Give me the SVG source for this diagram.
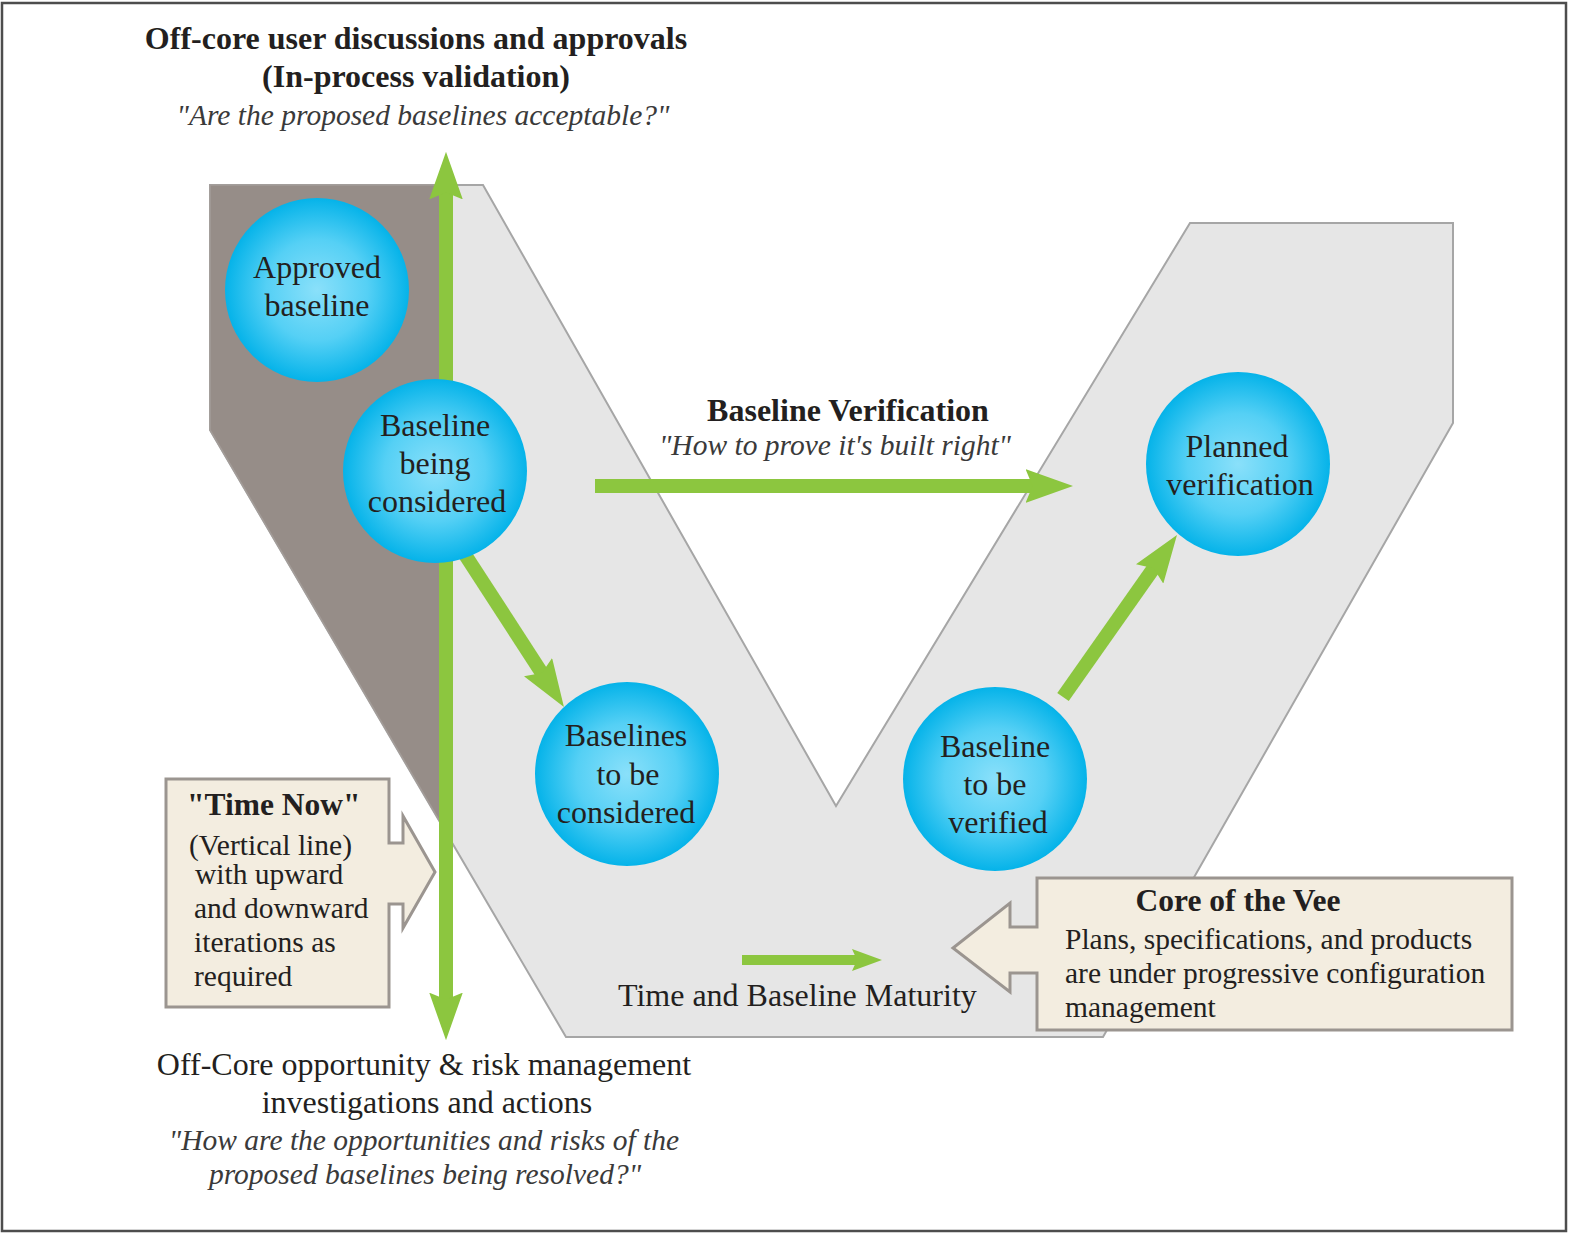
<svg xmlns="http://www.w3.org/2000/svg" width="1573" height="1237" viewBox="0 0 1573 1237">
<style>
  .t { font-family: "Liberation Serif", "Times New Roman", serif; fill: #231f20; }
  .b { font-weight: bold; }
  .i { font-style: italic; fill: #3a3a3a; }
  .ctr { text-anchor: middle; }
  .node { fill: url(#ball); }
  .call { fill: #f3ede0; stroke: #9b9590; stroke-width: 3; stroke-linejoin: miter; }
  .conn { stroke: #8cc63f; stroke-width: 14; fill: none; }
  .connS { stroke: #8cc63f; stroke-width: 10; fill: none; }
</style>
<defs>
  <radialGradient id="ball" cx="50%" cy="50%" r="50%">
    <stop offset="0" stop-color="#8ae0fa"/>
    <stop offset="0.55" stop-color="#55d0f5"/>
    <stop offset="1" stop-color="#05b3e9"/>
  </radialGradient>
  <marker id="arr" markerUnits="strokeWidth" markerWidth="3.4" markerHeight="2.4" viewBox="0 0 3.4 2.4" refX="0.6" refY="1.2" orient="auto-start-reverse">
    <path d="M0,0 L3.4,1.2 L0,2.4 L0.5,1.2 Z" fill="#8cc63f"/>
  </marker>
  <marker id="arrS" markerUnits="strokeWidth" markerWidth="3" markerHeight="2.2" viewBox="0 0 3 2.2" refX="0.6" refY="1.1" orient="auto">
    <path d="M0,0 L3,1.1 L0,2.2 L0.5,1.1 Z" fill="#8cc63f"/>
  </marker>
</defs>

<rect x="0" y="0" width="1573" height="1237" fill="#ffffff"/>
<rect x="2" y="3" width="1564" height="1228" fill="none" stroke="#4d4d4d" stroke-width="2.5"/>

<g id="vee">
  <polygon points="210,185 483,185 836,806 1190,223 1453,223 1453,423 1103,1037 566,1037 210,430" fill="#e6e6e6" stroke="#a6a6a6" stroke-width="2"/>
  <polygon points="210,185 446,185 446,832 210,430" fill="#968d88" stroke="#a39c98" stroke-width="1.5"/>
</g>

<g id="connectors">
  <line class="conn" x1="446" y1="191" x2="446" y2="1001" marker-start="url(#arr)" marker-end="url(#arr)"/>
  <line class="conn" x1="595" y1="486" x2="1034" y2="486" marker-end="url(#arr)"/>
  <line class="conn" x1="462" y1="550" x2="542.6" y2="674.2" marker-end="url(#arr)"/>
  <line class="conn" x1="1063" y1="697" x2="1154.4" y2="567.1" marker-end="url(#arr)"/>
  <line class="connS" x1="742" y1="960" x2="858" y2="960" marker-end="url(#arrS)"/>
</g>

<g id="node-approved-baseline">
  <circle class="node" cx="317" cy="290" r="92"/>
  <text class="t ctr" font-size="32" x="317" y="278">Approved</text>
  <text class="t ctr" font-size="32" x="317" y="316">baseline</text>
</g>
<g id="node-baseline-being-considered">
  <circle class="node" cx="435" cy="471" r="92"/>
  <text class="t ctr" font-size="32" x="435" y="436">Baseline</text>
  <text class="t ctr" font-size="32" x="435" y="474">being</text>
  <text class="t ctr" font-size="32" x="437" y="512">considered</text>
</g>
<g id="node-baselines-to-be-considered">
  <circle class="node" cx="627" cy="774" r="92"/>
  <text class="t ctr" font-size="32" x="626" y="746">Baselines</text>
  <text class="t ctr" font-size="32" x="628" y="785">to be</text>
  <text class="t ctr" font-size="32" x="626" y="823">considered</text>
</g>
<g id="node-baseline-to-be-verified">
  <circle class="node" cx="995" cy="779" r="92"/>
  <text class="t ctr" font-size="32" x="995" y="757">Baseline</text>
  <text class="t ctr" font-size="32" x="995" y="795">to be</text>
  <text class="t ctr" font-size="32" x="998" y="833">verified</text>
</g>
<g id="node-planned-verification">
  <circle class="node" cx="1238" cy="464" r="92"/>
  <text class="t ctr" font-size="32" x="1237" y="457">Planned</text>
  <text class="t ctr" font-size="32" x="1240" y="495">verification</text>
</g>

<g id="callout-time-now">
  <polygon class="call" points="166,779 389,779 389,843 403,843 403,816 435,872 403,928 403,904 389,904 389,1007 166,1007"/>
  <text class="t b" font-size="31.5" x="187" y="815">"Time Now"</text>
  <text class="t" font-size="29.5" x="189" y="855">(Vertical line)</text>
  <text class="t" font-size="29.5" x="195" y="884">with upward</text>
  <text class="t" font-size="29.5" x="194" y="918">and downward</text>
  <text class="t" font-size="29.5" x="194" y="952">iterations as</text>
  <text class="t" font-size="29.5" x="194" y="986">required</text>
</g>

<g id="callout-core">
  <polygon class="call" points="1037,878 1512,878 1512,1030 1037,1030 1037,973 1010,973 1010,992 953,948 1010,903 1010,927 1037,927"/>
  <text class="t b ctr" font-size="31.5" x="1238" y="911">Core of the Vee</text>
  <text class="t" font-size="29.5" x="1065" y="949">Plans, specifications, and products</text>
  <text class="t" font-size="29.5" x="1065" y="983">are under progressive configuration</text>
  <text class="t" font-size="29.5" x="1065" y="1017">management</text>
</g>

<g id="label-top">
  <text class="t b ctr" font-size="32" x="416" y="49">Off-core user discussions and approvals</text>
  <text class="t b ctr" font-size="32" x="416" y="87">(In-process validation)</text>
  <text class="t i ctr" font-size="29.5" x="423" y="125">"Are the proposed baselines acceptable?"</text>
</g>

<g id="label-verification">
  <text class="t b ctr" font-size="32" x="848" y="421">Baseline Verification</text>
  <text class="t i ctr" font-size="29.5" x="835" y="455">"How to prove it's built right"</text>
</g>

<g id="label-maturity">
  <text class="t" font-size="32" x="618" y="1006">Time and Baseline Maturity</text>
</g>

<g id="label-bottom">
  <text class="t ctr" font-size="32" x="424" y="1075">Off-Core opportunity &amp; risk management</text>
  <text class="t ctr" font-size="32" x="427" y="1113">investigations and actions</text>
  <text class="t i ctr" font-size="29.5" x="424" y="1150">"How are the opportunities and risks of the</text>
  <text class="t i ctr" font-size="29.5" x="425" y="1184">proposed baselines being resolved?"</text>
</g>
</svg>
